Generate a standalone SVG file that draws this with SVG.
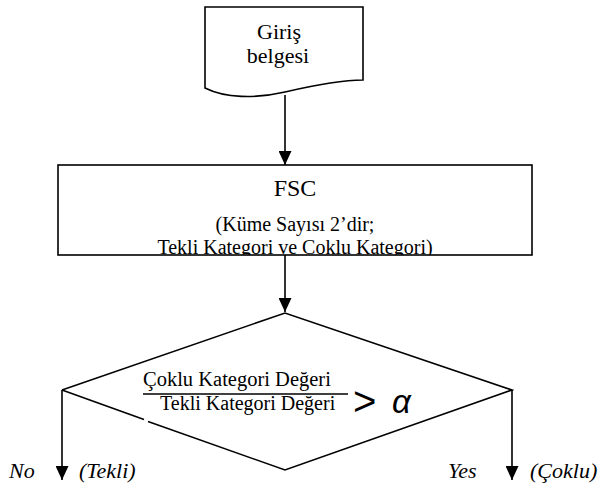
<svg xmlns="http://www.w3.org/2000/svg" width="602" height="490" viewBox="0 0 602 490">
  <style>
    .shape { fill: #ffffff; stroke: #000000; stroke-width: 1.6; }
    .edge { fill: none; stroke: #000000; stroke-width: 1.6; }
    .serif { font-family: "Liberation Serif", "Times New Roman", serif; fill: #000000; }
    .sans { font-family: "Liberation Sans", Arial, sans-serif; fill: #000000; }
    .it { font-style: italic; }
  </style>
  <defs>
    <marker id="head" markerWidth="13" markerHeight="14" refX="6.5" refY="14" orient="0" markerUnits="userSpaceOnUse">
      <path d="M0,0 L13,0 L6.5,14 Z" fill="#000000"/>
    </marker>
    <clipPath id="fscClip">
      <rect x="58" y="165" width="474" height="90"/>
    </clipPath>
  </defs>

  <!-- input document -->
  <g id="giris-belgesi">
    <path class="shape" d="M205,7 L363,7 L363,80 C340,80 315,85 285,92 C255,99 225,98 205,88 Z"/>
    <text class="serif" x="279" y="39" font-size="22" text-anchor="middle">Giriş</text>
    <text class="serif" x="278" y="63" font-size="22" text-anchor="middle">belgesi</text>
  </g>

  <!-- clustering step; last line is cut off by the box edge -->
  <g id="fsc">
    <rect class="shape" x="58" y="165" width="474" height="90"/>
    <g clip-path="url(#fscClip)">
      <text class="serif" x="295" y="196" font-size="24" text-anchor="middle">FSC</text>
      <text class="serif" x="295" y="231" font-size="20" text-anchor="middle">(Küme Sayısı 2’dir;</text>
      <text class="serif" x="295" y="254" font-size="20" text-anchor="middle">Tekli Kategori ve Coklu Kategori)</text>
    </g>
  </g>

  <!-- decision -->
  <g id="karar">
    <path class="edge" d="M62,390 L285,313 L512,390 L285,470 L148,421.5"/>
    <path class="edge" d="M62,390 L144,419.5"/>
    <text class="serif" x="143" y="386" font-size="20.5">Çoklu Kategori Değeri</text>
    <line x1="143" y1="394" x2="348" y2="394" stroke="#000000" stroke-width="1.4"/>
    <text class="serif" x="160" y="410" font-size="20">Tekli Kategori Değeri</text>
    <text class="sans" x="353" y="415" font-size="40">&gt;</text>
    <text class="sans it" x="392" y="413" font-size="33">α</text>
  </g>

  <!-- branch labels -->
  <g id="etiketler">
    <text class="serif it" x="9" y="478" font-size="22">No</text>
    <text class="serif it" x="79" y="478" font-size="22">(Tekli)</text>
    <text class="serif it" x="448" y="478" font-size="22">Yes</text>
    <text class="serif it" x="530" y="478" font-size="22">(Çoklu)</text>
  </g>

  <!-- connectors -->
  <g id="baglantilar">
    <line class="edge" x1="285" y1="95" x2="285" y2="165" marker-end="url(#head)"/>
    <line class="edge" x1="285" y1="255" x2="285" y2="312" marker-end="url(#head)"/>
    <line class="edge" x1="62" y1="390" x2="62" y2="480" marker-end="url(#head)"/>
    <line class="edge" x1="512" y1="390" x2="512" y2="480" marker-end="url(#head)"/>
  </g>
</svg>
